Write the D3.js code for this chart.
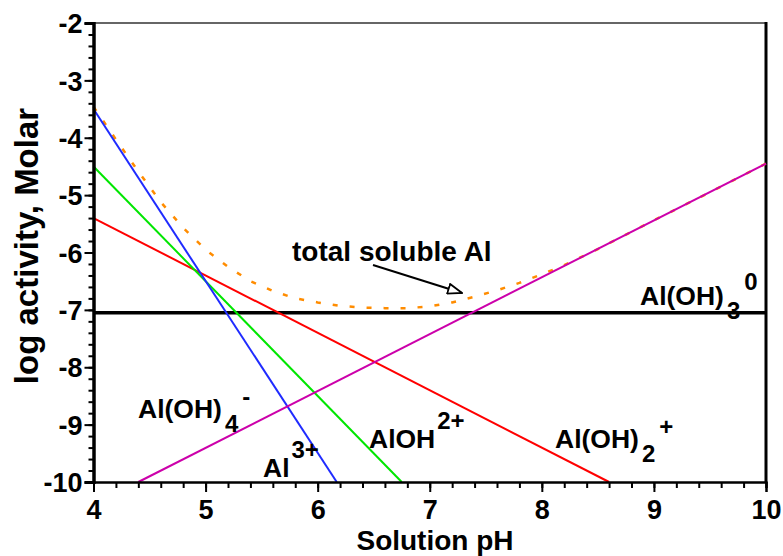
<!DOCTYPE html>
<html>
<head>
<meta charset="utf-8">
<script src="https://cdn.jsdelivr.net/npm/d3@7"></script>
<style>
    body { margin: 0; background: #fff; }
    text { font-family: "Liberation Sans", Arial, sans-serif; font-weight: bold; fill: #000; }
</style>
</head>
<body>
<svg id="chart" width="783" height="556"></svg>
<script>
// species lines, [pH, log activity]
const al3 = [[4.0, -3.5], [6.17, -10]];
const aloh2 = [[4.0, -4.5], [6.75, -10]];
const aloh2plus = [[4.0, -5.4], [8.6, -10]];
const aloh4 = [[4.4, -10], [10.0, -4.45]];
const aloh3 = [[4.0, -7.05], [10.0, -7.05]];

// total soluble Al
const totalAl = [
    [4.0, -3.46], [4.2, -4.03], [4.4, -4.59], [4.6, -5.12], [4.8, -5.57],
    [5.0, -5.95], [5.2, -6.25], [5.4, -6.50], [5.6, -6.67], [5.8, -6.80],
    [6.0, -6.87], [6.2, -6.93], [6.4, -6.96], [6.6, -6.97], [6.8, -6.97],
    [7.0, -6.94], [7.2, -6.87], [7.4, -6.77], [7.6, -6.66], [7.8, -6.53],
    [8.0, -6.38], [8.2, -6.22], [8.5, -5.94], [9.0, -5.44], [9.5, -4.95],
    [10.0, -4.45]
];

const xTicks = [4, 5, 6, 7, 8, 9, 10];
const yTicks = [-2, -3, -4, -5, -6, -7, -8, -9, -10];

let svg = d3.select("#chart");

let margin = { left: 93.5, right: 766, top: 23, bottom: 482 };

let x = d3.scaleLinear().domain([4, 10]).range([margin.left, margin.right]);
let y = d3.scaleLinear().domain([-10, -2]).range([margin.bottom, margin.top]);

let line = d3.line()
    .x(function(d) { return x(d[0]); })
    .y(function(d) { return y(d[1]); });

// frame: thin top, thick right
svg.append("line")
    .attr("x1", margin.left).attr("x2", margin.right)
    .attr("y1", margin.top).attr("y2", margin.top)
    .attr("stroke", "#333").attr("stroke-width", 1.5);
svg.append("line")
    .attr("x1", margin.right).attr("x2", margin.right)
    .attr("y1", margin.top - 1).attr("y2", margin.bottom)
    .attr("stroke", "#000").attr("stroke-width", 3);

// total soluble (under the others)
svg.append("path")
    .datum(totalAl)
    .attr("fill", "none")
    .attr("stroke", "#ff8c00")
    .attr("stroke-width", 2.5)
    .attr("stroke-dasharray", "5,12")
    .attr("d", line);

let series = [
    { data: aloh3, color: "#000", width: 3.5 },
    { data: aloh2plus, color: "#ff0000", width: 2 },
    { data: aloh2, color: "#00e600", width: 2 },
    { data: al3, color: "#1f2bff", width: 2 },
    { data: aloh4, color: "#cc00aa", width: 2 }
];

series.forEach(function(s) {
    svg.append("path")
        .datum(s.data)
        .attr("fill", "none")
        .attr("stroke", s.color)
        .attr("stroke-width", s.width)
        .attr("d", line);
});

// axes
let xMinor = d3.range(4, 10.001, 0.2);
let yMinor = d3.range(-10, -1.999, 0.2);
let plain = function(d) { return String(d); };

let xAxisMinor = svg.append("g")
    .attr("transform", "translate(0," + margin.bottom + ")")
    .call(d3.axisBottom(x).tickValues(xMinor).tickSize(6).tickFormat(""));
let xAxis = svg.append("g")
    .attr("transform", "translate(0," + margin.bottom + ")")
    .call(d3.axisBottom(x).tickValues(xTicks).tickSize(10).tickPadding(8).tickFormat(plain));

let yAxisMinor = svg.append("g")
    .attr("transform", "translate(" + margin.left + ",0)")
    .call(d3.axisLeft(y).tickValues(yMinor).tickSize(5).tickFormat(""));
let yAxis = svg.append("g")
    .attr("transform", "translate(" + margin.left + ",0)")
    .call(d3.axisLeft(y).tickValues(yTicks).tickSize(9).tickPadding(2).tickFormat(plain));

svg.selectAll(".tick line").attr("stroke", "#000").attr("stroke-width", 2);
xAxisMinor.select(".domain").attr("stroke-width", 2);
xAxis.select(".domain").attr("stroke-width", 2);
yAxisMinor.select(".domain").attr("stroke-width", 3);
yAxis.select(".domain").attr("stroke-width", 3);

svg.selectAll(".tick text")
    .style("font-family", "'Liberation Sans', Arial, sans-serif")
    .style("font-weight", "bold")
    .style("font-size", "27px")
    .attr("fill", "#000");
yAxis.selectAll(".tick text").attr("dy", "0.36em");
xAxis.selectAll(".tick text").attr("dy", "0.72em");

// axis titles
svg.append("text")
    .attr("x", 435)
    .attr("y", 550)
    .attr("text-anchor", "middle")
    .style("font-size", "28px")
    .text("Solution pH");

svg.append("text")
    .attr("transform", "translate(38,246) rotate(-90)")
    .attr("text-anchor", "middle")
    .style("font-size", "33px")
    .text("log activity, Molar");

// species labels: base, sub, super (supDy relative to base line)
let labels = [
    { x: 138, y: 418, base: "Al(OH)", sub: "4", sup: "-", supDy: -13 },
    { x: 263, y: 477, base: "Al", sub: "", sup: "3+", supDy: -19 },
    { x: 369, y: 448, base: "AlOH", sub: "", sup: "2+", supDy: -19 },
    { x: 555, y: 448, base: "Al(OH)", sub: "2", sup: "+", supDy: -13 },
    { x: 640, y: 305, base: "Al(OH)", sub: "3", sup: "0", supDy: -15 }
];

labels.forEach(function(l) {
    let t = svg.append("text")
        .attr("x", l.x)
        .attr("y", l.y)
        .style("font-size", "26.5px");
    t.append("tspan").text(l.base);
    let subDy = 0;
    if (l.sub) {
        subDy = 14;
        t.append("tspan").attr("dx", 3).attr("dy", subDy).style("font-size", "24px").text(l.sub);
    }
    t.append("tspan")
        .attr("dx", l.sub ? 4 : 2)
        .attr("dy", l.supDy - subDy)
        .style("font-size", "24px")
        .text(l.sup);
});

// annotation
svg.append("text")
    .attr("x", 292)
    .attr("y", 261)
    .style("font-size", "28px")
    .text("total soluble Al");

let defs = svg.append("defs");
defs.append("marker")
    .attr("id", "openArrow")
    .attr("viewBox", "0 0 16 12")
    .attr("refX", 15)
    .attr("refY", 6)
    .attr("markerWidth", 16)
    .attr("markerHeight", 12)
    .attr("markerUnits", "userSpaceOnUse")
    .attr("orient", "auto")
    .append("path")
    .attr("d", "M1,1 L15,6 L1,11 Z")
    .attr("fill", "#fff")
    .attr("stroke", "#000")
    .attr("stroke-width", 1.8);

svg.append("line")
    .attr("x1", 373).attr("y1", 265)
    .attr("x2", 462).attr("y2", 293)
    .attr("stroke", "#000")
    .attr("stroke-width", 2)
    .attr("marker-end", "url(#openArrow)");
</script>
</body>
</html>
